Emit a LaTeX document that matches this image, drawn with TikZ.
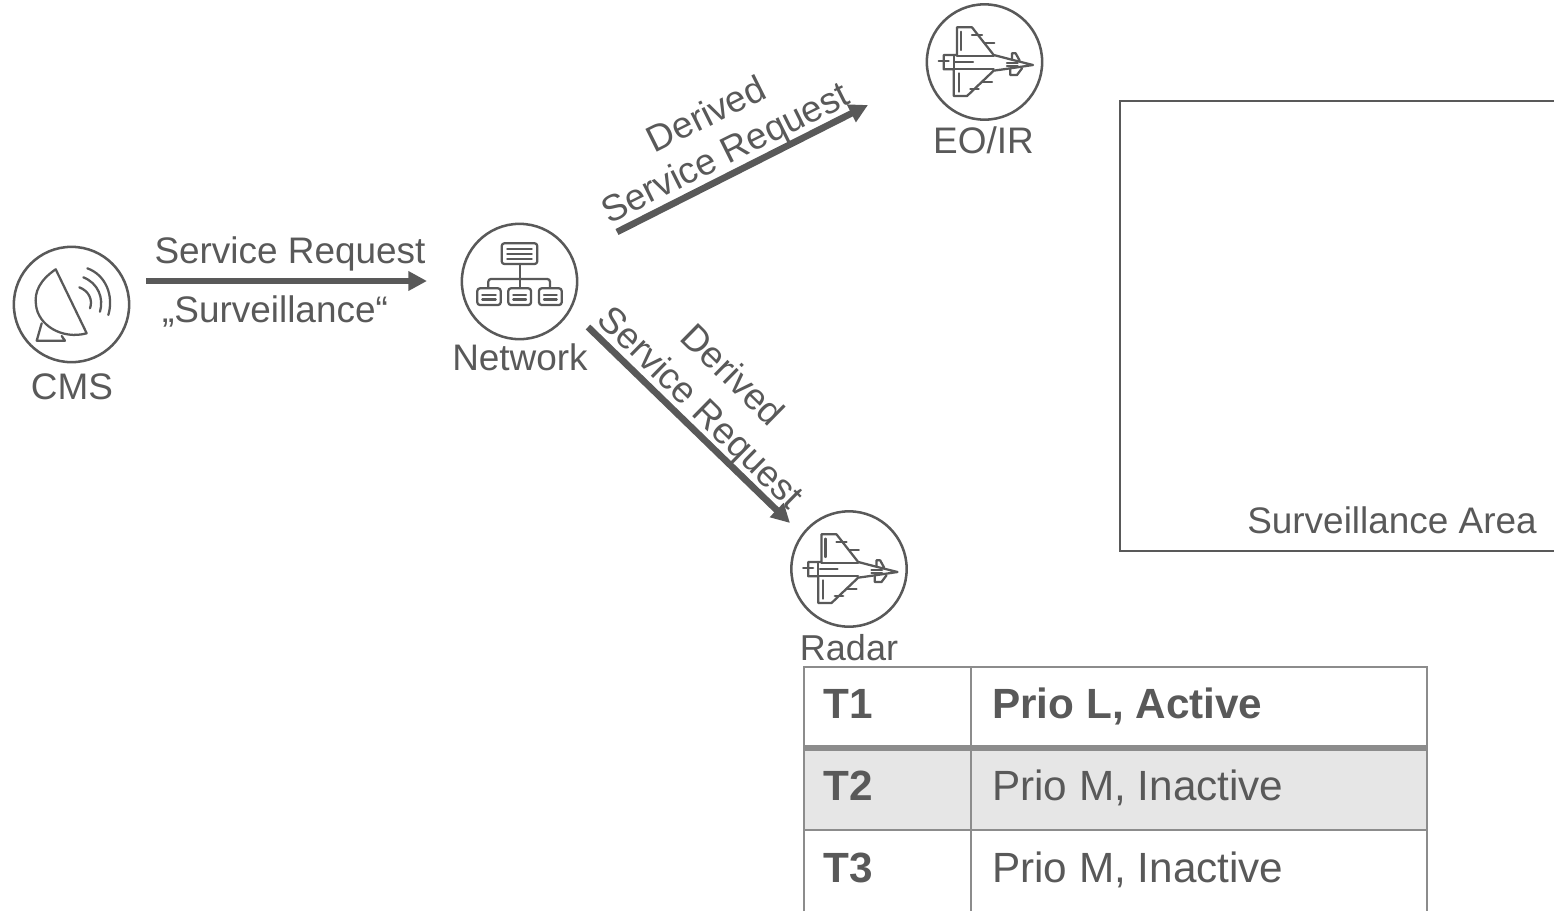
\documentclass[tikz,border=0pt]{standalone}
\usepackage{fontspec}
\setmainfont{Liberation Sans}
\usetikzlibrary{arrows.meta}
\definecolor{ink}{HTML}{595959}
\definecolor{rule}{HTML}{8C8C8C}
\definecolor{band}{HTML}{E6E6E6}
\newcommand{\lblfont}{\fontsize{27.7}{34}\selectfont}
\newcommand{\tblfont}{\fontsize{31.7}{38}\selectfont}
\tikzset{
  iconcircle/.style={draw=ink,line width=1.9pt,circle,minimum size=86.5pt,inner sep=0pt},
  icon/.style={draw=ink,line width=1.7pt,line join=round,line cap=round},
  lbl/.style={text=ink,font=\lblfont,anchor=base,inner sep=0pt},
  tbl/.style={text=ink,font=\tblfont,anchor=base west,inner sep=0pt},
  tblb/.style={tbl,font=\tblfont\bfseries},
  flow/.style={draw=ink,line width=5pt,-{Triangle[length=14pt,width=14pt]},shorten >=0pt},
  grid/.style={draw=rule,line width=2.2pt},
  rlbl/.style={text=ink,font=\lblfont,align=center,inner sep=0pt},
}
\newcommand{\jet}[2]{%
\begin{scope}[shift={(#1,#2)}]
\begin{scope}[x=0.25pt,y=-0.25pt,shift={(-222.5,-186)},icon]
 \draw (100,165)--(140,165)--(140,82)--(185,82)--(250,165)--(262,168)--(300,178)--(368,195)--(300,205)--(250,212)--(170,288)--(130,288)--(130,208)--(100,208)--cycle;
 \draw (130,165)--(130,208);
 \draw (140,168)--(250,168);
 \draw (130,208)--(250,208);
 \draw (152,95)--(152,150);
 \draw (145,220)--(145,275);
 \draw (135,187)--(188,187);
 \draw (85,182)--(115,182);
 \draw (290,190)--(322,190);
 \draw (290,197)--(322,197);
 \draw (305,178)--(305,160)--(316,160)--(328,182);
 \draw (300,205)--(300,225)--(320,225)--(335,205);
 \draw (185,105)--(215,105);
 \draw (225,130)--(252,130);
 \draw (215,245)--(245,245);
 \draw (180,268)--(205,268);
\end{scope}
\end{scope}}
\begin{document}
\begin{tikzpicture}[x=0.75pt,y=-0.75pt]
\useasboundingbox (0,0) rectangle (1554,911);
% table
\fill[band] (804,748) rectangle (1427,830);
\draw[grid] (804,911)--(804,667)--(1427,667)--(1427,911);
\draw[grid] (971,667)--(971,911);
\draw[draw=rule,line width=4pt] (804,748)--(1427,748);
\draw[grid] (804,830)--(1427,830);
\node[tblb] (t1) at (823,718) {T1};
\node[tblb] (p1) at (992,718) {Prio L, Active};
\node[tblb] (t2) at (823,800) {T2};
\node[tbl] (p2) at (992,800) {Prio M, Inactive};
\node[tblb] (t3) at (823,882) {T3};
\node[tbl] (p3) at (992,882) {Prio M, Inactive};
% surveillance area
\draw[draw=ink,line width=1.6pt] (1554,101)--(1120,101)--(1120,551)--(1554,551);
\node[lbl] (area) at (1392,533) {Surveillance Area};
% icon circles
\node[iconcircle] (cms) at (71.5,304.5) {};
\node[iconcircle] (net) at (519.5,281.5) {};
\node[iconcircle] (eo) at (984.5,62) {};
\node[iconcircle] (rad) at (849,569) {};
% CMS dish
\draw[icon] (55.7,269.3) .. controls (40,280) and (34,292) .. (36,305) .. controls (38,325) and (62,340) .. (86.7,333.3) -- cycle;
\draw[icon] (41.7,323.3)--(36.7,340.7)--(65,340.7)--(61.7,336);
\draw[icon] (79.3,287.3) .. controls (89,291) and (93,300) .. (90,308.3);
\draw[icon] (83.3,277.3) .. controls (98,283) and (104,298) .. (100,311.7);
\draw[icon] (87.3,268.3) .. controls (106,275) and (114,296) .. (108.3,315);
% network icon
\draw[icon,rounded corners=2pt] (501.7,243.3) rectangle (537.3,264);
\foreach \yy in {249.3,254.3,259}{\draw[icon] (507.3,\yy)--(531.7,\yy);}
\draw[icon] (519.7,264)--(519.7,287.3);
\draw[icon,rounded corners=2pt] (488.3,287.3)--(488.3,279)--(550,279)--(550,287.3);
\foreach \xa/\xb in {477.3/500.7,508.3/531,539/561.7}{
  \draw[icon,rounded corners=2pt] (\xa,288.3) rectangle (\xb,305);
  \draw[icon] (\xa+5,295)--(\xb-5,295);
  \draw[icon] (\xa+5,299.5)--(\xb-5,299.5);
}
% jets
\jet{984.5}{62}
\jet{849}{569}
% icon labels
\node[lbl] (cmsl) at (72,399) {CMS};
\node[lbl] (netl) at (520,370) {Network};
\node[lbl] (eol) at (983.5,153) {EO/IR};
\node[lbl,font=\fontsize{27}{32}\selectfont] (radl) at (849,660) {Radar};
% arrows
\coordinate (a1s) at (146,281); \coordinate (a1e) at (427,281);
\coordinate (a2s) at (617,232); \coordinate (a2e) at (868,105);
\coordinate (a3s) at (588,327); \coordinate (a3e) at (790,523);
\draw[flow] (a1s)--(a1e);
\draw[flow] (a2s)--(a2e);
\draw[flow] (a3s)--(a3e);
\node[lbl] (sr) at (290,263) {Service Request};
\node[lbl] (su) at (275,322) {„Surveillance“};
\node[rlbl,rotate=26.5] (d1) at (717,136) {Derived\\[-2pt]Service Request};
\node[rlbl,rotate=-44.5] (d2) at (715,393) {Derived\\Service Request};
\end{tikzpicture}
\end{document}
